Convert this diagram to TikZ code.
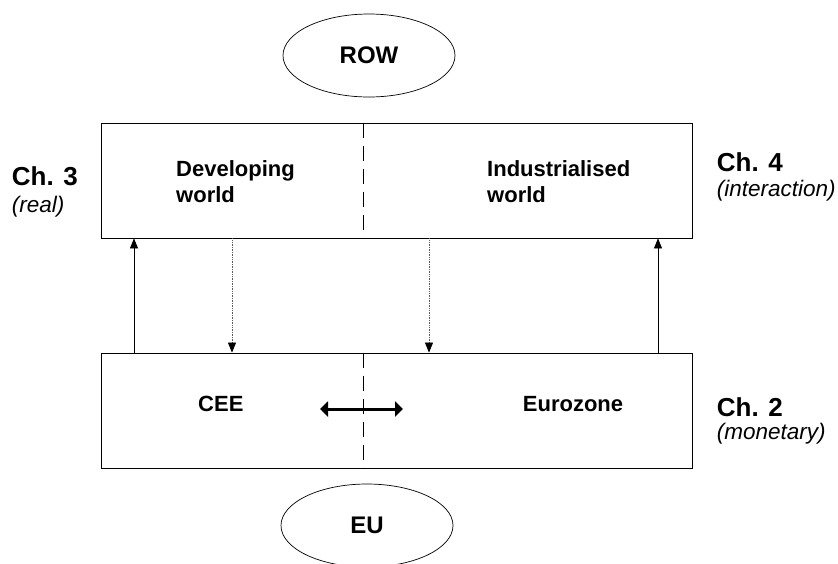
\documentclass[tikz,border=0pt]{standalone}
\usepackage{fontspec}
\setmainfont{Liberation Sans}
\usetikzlibrary{shapes.geometric,arrows.meta}
\begin{document}
\begin{tikzpicture}[x=1pt,y=-1pt,
  box/.style={draw, line width=0.8pt, minimum width=591pt, minimum height=115pt, inner sep=0pt},
  oval/.style={ellipse, draw, line width=0.7pt, minimum width=172pt, minimum height=83pt, inner sep=0pt, font=\fontsize{24}{28}\selectfont\bfseries},
  lbl/.style={inner sep=0pt, font=\fontsize{22}{26.5}\selectfont\bfseries},
  chap/.style={inner sep=0pt, anchor=base west, font=\fontsize{26}{30}\selectfont\bfseries},
  subl/.style={inner sep=0pt, anchor=base west, font=\fontsize{22.5}{27}\selectfont\itshape},
  divider/.style={dash pattern=on 15pt off 8pt, line width=0.7pt},
  flow/.style={-{Triangle[length=10pt,width=8pt]}, line width=0.7pt},
  weak/.style={-{Triangle[length=10pt,width=8pt,color=black]}, line width=0.7pt, gray!70!black, densely dotted},
  both/.style={{Triangle[length=8pt,width=15pt]}-{Triangle[length=8pt,width=15pt]}, line width=3pt}
]
\useasboundingbox (0,0) rectangle (838,563);
\fill[white] (0,0) rectangle (838,563);

\node[oval] (row) at (369,55.5) {ROW};
\node[box] (top) at (396.5,180.5) {};
\node[box] (bot) at (396.5,410.5) {};
\node[oval] (eu) at (367,525.5) {EU};

\coordinate (div) at (363,0);
\draw[divider] (top.north -| div) -- (top.south -| div);
\draw[divider] (bot.north -| div) -- (bot.south -| div);

\node[lbl, anchor=north west, align=left] (dev) at (176,159.9) {Developing\\world};
\node[lbl, anchor=north west, align=left] (ind) at (487,159.9) {Industrialised\\world};
\node[lbl, anchor=base west] (cee) at (198,411.7) {CEE};
\node[lbl, anchor=base west] (ez) at (522.7,411.7) {Eurozone};

\node[chap] (ch3) at (11.7,185) {Ch. 3};
\node[subl] (ch3s) at (11.7,212.5) {(real)};
\node[chap] (ch4) at (716.7,171) {Ch. 4};
\node[subl] (ch4s) at (716.7,196.5) {(interaction)};
\node[chap] (ch2) at (716.7,416.7) {Ch. 2};
\node[subl] (ch2s) at (716.7,439.6) {(monetary)};

\coordinate (a1) at (134,0);
\coordinate (a2) at (232,0);
\coordinate (a3) at (429,0);
\coordinate (a4) at (658,0);
\draw[flow] (bot.north -| a1) -- (top.south -| a1);
\draw[weak] (top.south -| a2) -- (bot.north -| a2);
\draw[weak] (top.south -| a3) -- (bot.north -| a3);
\draw[flow] (bot.north -| a4) -- (top.south -| a4);

\coordinate (dl) at (320,409);
\coordinate (dr) at (403,409);
\draw[both] (dl) -- (dr);
\end{tikzpicture}
\end{document}
